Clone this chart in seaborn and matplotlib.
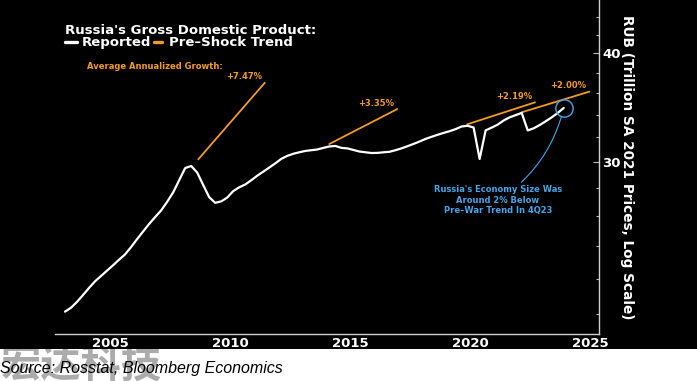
import matplotlib
matplotlib.use('Agg')
import matplotlib.pyplot as plt
import seaborn as sns
import pandas as pd
from matplotlib.patches import Rectangle
from matplotlib.lines import Line2D
from matplotlib.ticker import FixedLocator, NullFormatter

# ---------------- data ----------------
quarters = [f"{y}Q{q}" for y in range(2003, 2024) for q in range(1, 5)]
gdp = [
    20.15, 20.36, 20.68, 21.06,   # 2003
    21.46, 21.84, 22.15, 22.47,   # 2004
    22.79, 23.13, 23.46, 23.92,   # 2005
    24.43, 24.93, 25.43, 25.90,   # 2006
    26.36, 26.97, 27.65, 28.56,   # 2007
    29.50, 29.66, 29.15, 28.20,   # 2008
    27.30, 26.90, 27.00, 27.28,   # 2009
    27.75, 28.03, 28.24, 28.56,   # 2010
    28.91, 29.22, 29.54, 29.87,   # 2011
    30.23, 30.47, 30.64, 30.76,   # 2012
    30.87, 30.93, 30.99, 31.12,   # 2013
    31.24, 31.28, 31.12, 31.08,   # 2014
    30.95, 30.82, 30.76, 30.70,   # 2015
    30.71, 30.76, 30.80, 30.93,   # 2016
    31.08, 31.26, 31.45, 31.65,   # 2017
    31.87, 32.05, 32.22, 32.38,   # 2018
    32.53, 32.71, 32.94, 33.00,   # 2019
    32.85, 30.22, 32.60, 32.84,   # 2020
    33.10, 33.47, 33.75, 33.95,   # 2021
    34.15, 32.60, 32.78, 33.07,   # 2022
    33.40, 33.75, 34.15, 34.60,   # 2023
]
trend_start_year = [2008.67, 2014.12, 2019.86, 2022.12]
trend_end_year = [2011.44, 2016.95, 2022.68, 2024.94]
trend_start_val = [30.19, 31.44, 33.13, 34.20]
trend_end_val = [37.00, 34.50, 35.12, 36.13]
trend_labels = ['+7.47%', '+3.35%', '+2.19%', '+2.00%']

x_major = [2005, 2010, 2015, 2020, 2025]
y_major = [30, 40]
y_minor = [20, 22, 24, 26, 28, 32, 34, 36, 38, 42, 44]

title = "Russia's Gross Domestic Product:"
legend_reported = "Reported"
legend_trend = "Pre\u2013Shock Trend"
growth_title = "Average Annualized Growth:"
note_text = "Russia's Economy Size Was\nAround 2% Below\nPre\u2013War Trend In 4Q23"
ylabel = "RUB (Trillion SA 2021 Prices, Log Scale)"
source = "Source: Rosstat, Bloomberg Economics"
watermark = "\u5b8f\u8fbe\u79d1\u6280"

# ---------------- style ----------------
sns.set_theme(style='white')
plt.rcParams['font.family'] = ['DejaVu Sans']
plt.rcParams['font.weight'] = 'bold'

ORANGE = '#f39c1d'
BLUE = '#45a5e8'
W, H = 697, 381


def fx(px):
    return px / W


def fy(py):
    return 1 - py / H


fig = plt.figure(figsize=(W / 100, H / 100), dpi=100)
fig.patch.set_facecolor('white')
fig.add_artist(Rectangle((0, fy(348.7)), 1, 348.7 / H, transform=fig.transFigure,
                         facecolor='black', edgecolor='none', zorder=0.5))
fig.text(fx(1), fy(377), watermark, family=['Noto Sans CJK SC', 'DejaVu Sans'],
         fontsize=29, color='#ababab', fontweight='bold', va='baseline', zorder=0.2)

ax = fig.add_axes([fx(55.5), fy(334), (599.3 - 55.5) / W, 334 / H])
ax.set_zorder(2)
ax.set_facecolor('black')

df = pd.DataFrame({'quarter': quarters, 'gdp': gdp})
df['t'] = df['quarter'].str[:4].astype(int) + (df['quarter'].str[-1].astype(int) - 0.5) / 4

sns.lineplot(data=df, x='t', y='gdp', color='white', lw=1.6, ax=ax, zorder=3)

for xs, xe, vs, ve, lab in zip(trend_start_year, trend_end_year, trend_start_val,
                               trend_end_val, trend_labels):
    seg = pd.DataFrame({'t': [xs, xe], 'v': [vs, ve]})
    sns.lineplot(data=seg, x='t', y='v', color=ORANGE, lw=1.3, ax=ax, zorder=2)
    ax.annotate(lab, xy=(xe, ve), xytext=(-15, 2.3), textcoords='offset points',
                ha='center', va='baseline', color=ORANGE, fontsize=6, fontweight='bold')

# circle at latest point + note
last_t, last_v = df['t'].iloc[-1], df['gdp'].iloc[-1]
ax.plot([last_t], [last_v], marker='o', ms=12.5, mfc='none', mec=BLUE, mew=1.0, zorder=4)
ax.annotate(note_text, xy=(last_t, last_v), xytext=(498, H - 185.5),
            textcoords='figure pixels', ha='center', va='top', multialignment='center',
            color=BLUE, fontsize=6, fontweight='bold', linespacing=1.2,
            arrowprops=dict(arrowstyle='-', color=BLUE, lw=0.8, shrinkA=0, shrinkB=6.2,
                            connectionstyle='arc3,rad=0.2'))

ax.set_yscale('log')
ax.set_xlim(2002.73, 2025.354)
ax.set_ylim(18.99, 46.08)

for s in ['left', 'top']:
    ax.spines[s].set_visible(False)
for s in ['right', 'bottom']:
    ax.spines[s].set_visible(True)
    ax.spines[s].set_color('#d0d0d0')
    ax.spines[s].set_linewidth(1.0)

ax.yaxis.tick_right()
ax.set_yticks(y_major)
ax.set_yticklabels([str(v) for v in y_major])
ax.yaxis.set_minor_locator(FixedLocator(y_minor))
ax.yaxis.set_minor_formatter(NullFormatter())
ax.set_xticks(x_major)
ax.set_xticklabels([str(v) for v in x_major])
ax.xaxis.set_minor_locator(FixedLocator(list(range(2003, 2026))))
ax.xaxis.set_minor_formatter(NullFormatter())
ax.tick_params(axis='both', which='major', direction='in', length=4.5, width=0.8,
               color='#bdbdbd', labelcolor='white', labelsize=9.5, pad=2)
ax.tick_params(axis='both', which='minor', direction='in', length=2.3, width=0.8,
               color='#bdbdbd')
ax.tick_params(axis='y', which='both', left=False, right=True, labelleft=False, labelright=True)
for lbl in ax.get_xticklabels() + ax.get_yticklabels():
    lbl.set_fontweight('bold')

ax.set_xlabel('')
ax.set_ylabel(ylabel, rotation=270, color='white', fontsize=9.8, fontweight='bold',
              ha='center', va='center')
ax.yaxis.set_label_position('right')
ax.yaxis.set_label_coords((634 - 55.5) / (599.3 - 55.5), 0.5)

# title / legend texts
fig.text(fx(65), fy(34), title, color='white', fontsize=9.5, fontweight='bold', va='baseline')
fig.add_artist(Line2D([fx(65), fx(76.5)], [fy(42.3)] * 2, color='white', lw=2.4,
                      transform=fig.transFigure, zorder=6))
fig.text(fx(81.7), fy(45.7), legend_reported, color='white', fontsize=9.5,
         fontweight='bold', va='baseline')
fig.add_artist(Line2D([fx(154.3), fx(161.5)], [fy(42.3)] * 2, color=ORANGE, lw=2.4,
                      transform=fig.transFigure, zorder=6))
fig.text(fx(169.3), fy(45.7), legend_trend, color='white', fontsize=9.5,
         fontweight='bold', va='baseline')
fig.text(fx(87.3), fy(69.3), growth_title, color=ORANGE, fontsize=6, fontweight='bold',
         va='baseline')

fig.text(0, fy(373), source, family=['Liberation Sans', 'DejaVu Sans'], fontsize=11.5,
         fontstyle='italic', fontweight='normal', color='black', va='baseline')

fig.savefig('out.png', dpi=100, facecolor=fig.get_facecolor())
